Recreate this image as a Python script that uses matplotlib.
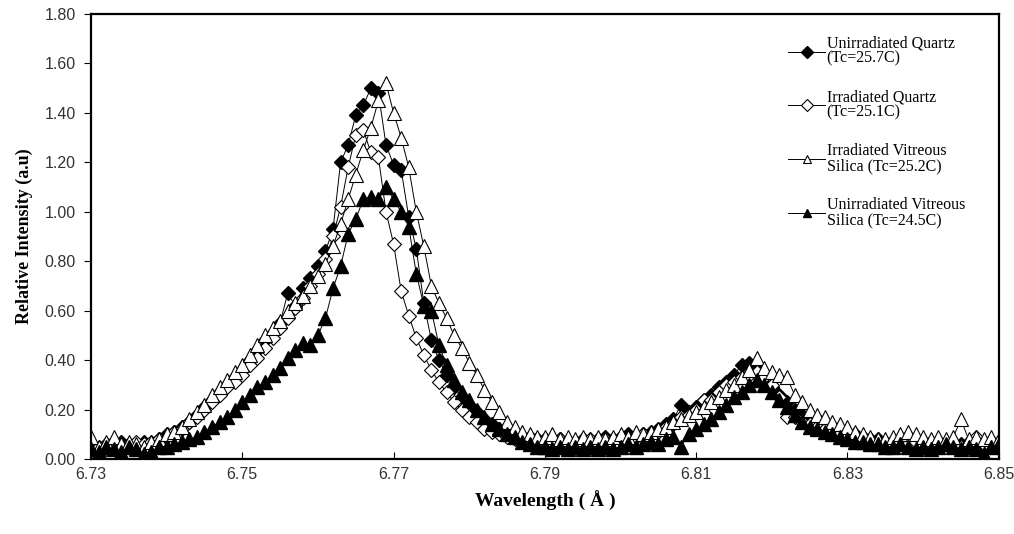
import numpy as np
import matplotlib
matplotlib.use('Agg')
import matplotlib.pyplot as plt

# wavelength grid (Angstrom), 0.001 step
wavelength = np.round(np.arange(6.730, 6.8505, 0.001), 3)

unirr_quartz = [
    0.05, 0.04, 0.06, 0.05, 0.07, 0.06, 0.05, 0.07, 0.06, 0.08,
    0.10, 0.11, 0.13, 0.15, 0.18, 0.21, 0.24, 0.27, 0.30, 0.33,
    0.36, 0.40, 0.44, 0.48, 0.51, 0.55, 0.67, 0.62, 0.69, 0.73,
    0.78, 0.84, 0.93, 1.20, 1.27, 1.39, 1.43, 1.50, 1.48, 1.27,
    1.19, 1.17, 0.98, 0.85, 0.63, 0.48, 0.40, 0.34, 0.29, 0.25,
    0.22, 0.19, 0.16, 0.14, 0.12, 0.11, 0.10, 0.09, 0.09, 0.08,
    0.08, 0.07, 0.08, 0.07, 0.07, 0.08, 0.07, 0.08, 0.09, 0.08,
    0.09, 0.10, 0.09, 0.10, 0.11, 0.12, 0.14, 0.16, 0.22, 0.19,
    0.21, 0.24, 0.26, 0.29, 0.31, 0.34, 0.38, 0.39, 0.37, 0.33,
    0.29, 0.26, 0.23, 0.20, 0.18, 0.16, 0.15, 0.14, 0.13, 0.11,
    0.10, 0.10, 0.09, 0.08, 0.08, 0.07, 0.07, 0.06, 0.07, 0.06,
    0.06, 0.07, 0.06, 0.06, 0.05, 0.06, 0.07, 0.06, 0.05, 0.06, 0.06,
]

irr_quartz = [
    0.04, 0.05, 0.04, 0.06, 0.05, 0.06, 0.07, 0.06, 0.07, 0.08,
    0.09, 0.11, 0.12, 0.15, 0.17, 0.20, 0.23, 0.26, 0.29, 0.31,
    0.34, 0.38, 0.41, 0.45, 0.49, 0.53, 0.57, 0.61, 0.65, 0.70,
    0.75, 0.81, 0.90, 1.02, 1.18, 1.31, 1.33, 1.24, 1.22, 1.00,
    0.87, 0.68, 0.58, 0.49, 0.42, 0.36, 0.31, 0.27, 0.23, 0.20,
    0.17, 0.15, 0.12, 0.11, 0.10, 0.09, 0.08, 0.08, 0.07, 0.08,
    0.07, 0.07, 0.08, 0.06, 0.07, 0.07, 0.08, 0.07, 0.08, 0.08,
    0.09, 0.08, 0.09, 0.10, 0.10, 0.11, 0.13, 0.14, 0.17, 0.18,
    0.20, 0.24, 0.24, 0.27, 0.30, 0.31, 0.33, 0.34, 0.35, 0.33,
    0.30, 0.25, 0.17, 0.17, 0.15, 0.14, 0.13, 0.12, 0.11, 0.10,
    0.09, 0.08, 0.08, 0.07, 0.07, 0.06, 0.07, 0.06, 0.06, 0.07,
    0.06, 0.06, 0.07, 0.06, 0.06, 0.05, 0.06, 0.09, 0.06, 0.05, 0.07,
]

irr_silica = [
    0.09, 0.05, 0.07, 0.09, 0.06, 0.07, 0.06, 0.05, 0.07, 0.08,
    0.10, 0.11, 0.13, 0.16, 0.19, 0.22, 0.26, 0.29, 0.32, 0.35,
    0.38, 0.42, 0.46, 0.50, 0.53, 0.56, 0.60, 0.63, 0.66, 0.70,
    0.74, 0.79, 0.86, 0.95, 1.05, 1.15, 1.25, 1.34, 1.45, 1.52,
    1.40, 1.30, 1.18, 1.00, 0.86, 0.70, 0.63, 0.57, 0.50, 0.45,
    0.39, 0.34, 0.28, 0.23, 0.19, 0.15, 0.13, 0.11, 0.10, 0.09,
    0.09, 0.10, 0.08, 0.09, 0.08, 0.09, 0.08, 0.09, 0.08, 0.09,
    0.10, 0.09, 0.11, 0.10, 0.11, 0.12, 0.13, 0.15, 0.16, 0.18,
    0.19, 0.21, 0.23, 0.25, 0.28, 0.30, 0.33, 0.36, 0.41, 0.37,
    0.35, 0.34, 0.33, 0.26, 0.23, 0.20, 0.18, 0.17, 0.15, 0.14,
    0.13, 0.11, 0.10, 0.09, 0.08, 0.08, 0.09, 0.10, 0.11, 0.10,
    0.09, 0.08, 0.09, 0.08, 0.09, 0.16, 0.08, 0.09, 0.08, 0.09, 0.08,
]

unirr_silica = [
    0.04, 0.03, 0.05, 0.04, 0.03, 0.05, 0.04, 0.02, 0.03, 0.05,
    0.05, 0.06, 0.07, 0.08, 0.09, 0.11, 0.13, 0.15, 0.17, 0.20,
    0.23, 0.26, 0.29, 0.31, 0.34, 0.37, 0.41, 0.44, 0.47, 0.46,
    0.50, 0.57, 0.69, 0.78, 0.91, 0.97, 1.05, 1.06, 1.05, 1.10,
    1.05, 1.00, 0.94, 0.75, 0.62, 0.60, 0.46, 0.38, 0.32, 0.27,
    0.24, 0.20, 0.17, 0.14, 0.12, 0.10, 0.09, 0.07, 0.06, 0.05,
    0.05, 0.04, 0.05, 0.04, 0.05, 0.04, 0.05, 0.04, 0.05, 0.04,
    0.05, 0.06, 0.05, 0.06, 0.07, 0.06, 0.08, 0.09, 0.05, 0.10,
    0.12, 0.14, 0.16, 0.19, 0.22, 0.25, 0.27, 0.30, 0.32, 0.30,
    0.27, 0.24, 0.21, 0.18, 0.15, 0.13, 0.12, 0.11, 0.10, 0.09,
    0.08, 0.07, 0.07, 0.06, 0.06, 0.05, 0.05, 0.06, 0.05, 0.04,
    0.05, 0.04, 0.05, 0.06, 0.05, 0.04, 0.05, 0.04, 0.02, 0.05, 0.06,
]

labels = ['Unirradiated Quartz\n(Tc=25.7C)',
          'Irradiated Quartz\n(Tc=25.1C)',
          'Irradiated Vitreous\nSilica (Tc=25.2C)',
          'Unirradiated Vitreous\nSilica (Tc=24.5C)']

xticks = [6.73, 6.75, 6.77, 6.79, 6.81, 6.83, 6.85]
yticks = [0.0, 0.2, 0.4, 0.6, 0.8, 1.0, 1.2, 1.4, 1.6, 1.8]

fig = plt.figure(figsize=(10.14, 5.34), dpi=100)
ax = fig.add_axes([0.0897, 0.1404, 0.8953, 0.8336])

ax.plot(wavelength, unirr_quartz, color='black', lw=0.7, marker='D',
        ms=7.5, mfc='black', mec='black', label=labels[0])
ax.plot(wavelength, irr_quartz, color='black', lw=0.7, marker='D',
        ms=7.5, mfc='white', mec='black', mew=0.8, label=labels[1])
ax.plot(wavelength, irr_silica, color='black', lw=0.7, marker='^',
        ms=9.5, mfc='white', mec='black', mew=0.8, label=labels[2])
ax.plot(wavelength, unirr_silica, color='black', lw=0.7, marker='^',
        ms=9.5, mfc='black', mec='black', label=labels[3])

ax.set_xlim(6.73, 6.85)
ax.set_ylim(0, 1.8)
ax.set_xticks(xticks)
ax.set_xticklabels(['{:.2f}'.format(t) for t in xticks])
ax.set_yticks(yticks)
ax.set_yticklabels(['{:.2f}'.format(t) for t in yticks])
ax.tick_params(axis='x', direction='in', length=5, pad=6,
               labelsize=11.5, labelcolor='#333333')
ax.tick_params(axis='y', direction='out', length=5, pad=6,
               labelsize=11.5, labelcolor='#333333')
for lbl in ax.get_xticklabels() + ax.get_yticklabels():
    lbl.set_family('Liberation Sans')
for sp in ax.spines.values():
    sp.set_linewidth(1.6)

ax.set_xlabel('Wavelength ( Å )', family='Liberation Serif',
              fontweight='bold', fontsize=14, labelpad=6)
ax.set_ylabel('Relative Intensity (a.u)', family='Liberation Serif',
              fontweight='bold', fontsize=13, labelpad=8)

leg = ax.legend(loc='upper left', bbox_to_anchor=(0.761, 0.966),
                frameon=False, handlelength=2.3, labelspacing=1.4,
                borderaxespad=0, handletextpad=0.1,
                prop={'family': 'Liberation Serif', 'size': 11.5})
for t in leg.get_texts():
    t.set_linespacing(0.95)
for h in leg.legend_handles:
    h.set_markersize(6)

fig.savefig('out.png', dpi=100)
